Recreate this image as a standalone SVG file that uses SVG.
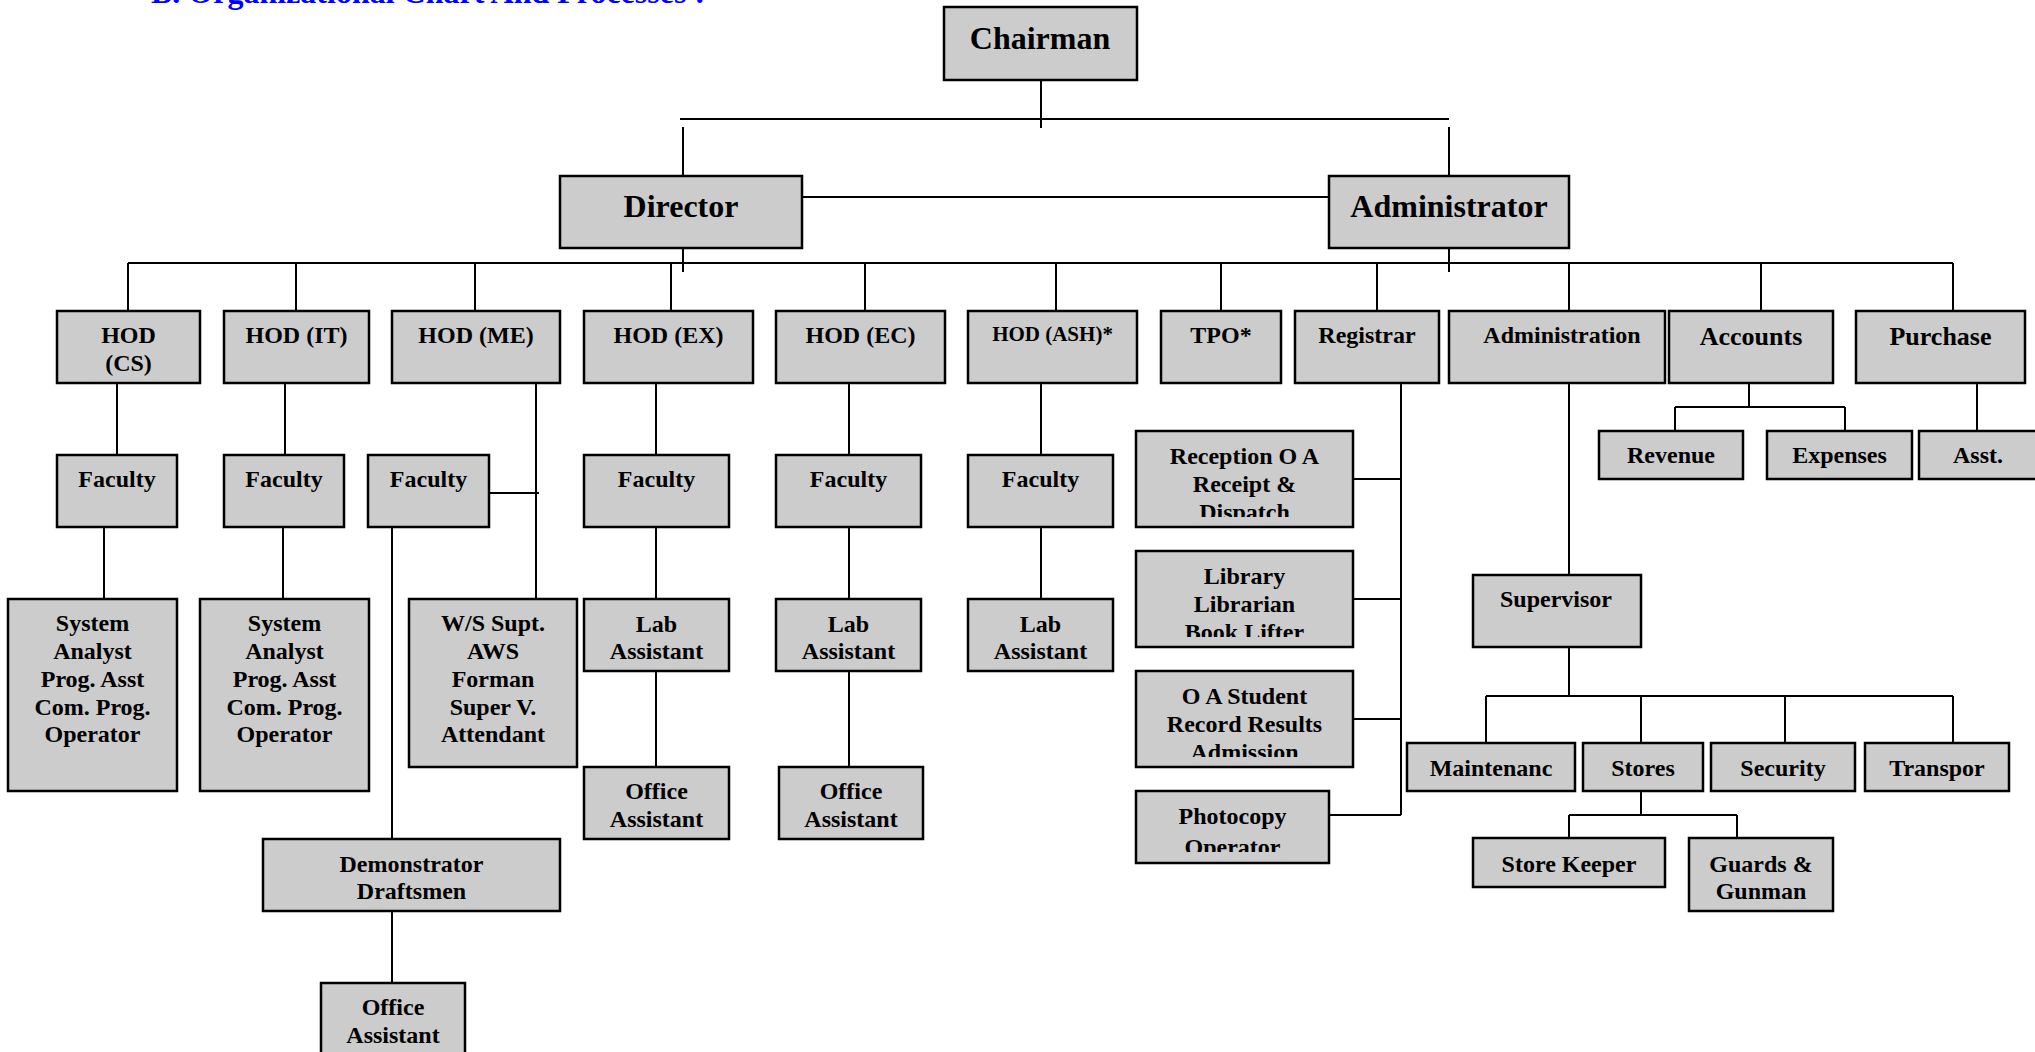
<svg xmlns="http://www.w3.org/2000/svg" width="2035" height="1052" viewBox="0 0 2035 1052">
<style>
.box{fill:#cccccc;stroke:#000;stroke-width:2.5}
.t{font-family:"Liberation Serif","Times New Roman",serif;font-weight:bold;font-size:24px;text-anchor:middle;fill:#000}
.big{font-size:32px}
.sm{font-size:21px}
.ttl{font-family:"Liberation Serif","Times New Roman",serif;font-weight:bold;font-size:32px;fill:#0000ff}
.ln{fill:none;stroke:#000;stroke-width:2}
</style>
<defs>
<clipPath id="c1" clipPathUnits="userSpaceOnUse"><rect x="1136" y="431" width="217" height="86"/></clipPath>
<clipPath id="c2" clipPathUnits="userSpaceOnUse"><rect x="1136" y="551" width="217" height="86"/></clipPath>
<clipPath id="c3" clipPathUnits="userSpaceOnUse"><rect x="1136" y="671" width="217" height="86"/></clipPath>
<clipPath id="c4" clipPathUnits="userSpaceOnUse"><rect x="1136" y="791" width="193" height="61"/></clipPath>
</defs>
<rect width="2035" height="1052" fill="#fff"/>
<text class="ttl" x="151" y="2.5">B. Organizational Chart And Processes :</text>

<g id="connectors">
<path class="ln" d="M1041 80V128M680 119H1449M683 127V176M1449 127V176M802 197H1329M683 248V272M1449 248V272M128 263H1953"/>
<path class="ln" d="M128 263V311M296 263V311M475 263V311M671 263V311M865 263V311M1056 263V311M1221 263V311M1377 263V311M1569 263V311M1761 263V311M1953 263V311"/>
<path class="ln" d="M117 383V455M104 527V599M285 383V455M283 527V599"/>
<path class="ln" d="M536 383V599M489 493H539M392 527V839M392 911V983"/>
<path class="ln" d="M656 383V455M656 527V599M656 671V767M849 383V455M849 527V599M849 671V767M1041 383V455M1041 527V599"/>
<path class="ln" d="M1401 383V815M1353 479H1401M1353 599H1401M1353 719H1401M1329 815H1401"/>
<path class="ln" d="M1569 383V575M1569 647V696M1486 696H1953M1486 696V743M1641 696V743M1785 696V743M1953 696V743"/>
<path class="ln" d="M1641 791V815M1569 815H1737M1569 815V838M1737 815V838"/>
<path class="ln" d="M1749 383V407M1675 407H1845M1675 407V431M1845 407V431M1977 383V431"/>
</g>

<g id="chairman"><rect class="box" x="944" y="7" width="193" height="73"/><text class="t big" x="1040" y="49">Chairman</text></g>
<g id="director"><rect class="box" x="560" y="176" width="242" height="72"/><text class="t big" x="681" y="217">Director</text></g>
<g id="administrator"><rect class="box" x="1329" y="176" width="240" height="72"/><text class="t big" x="1449" y="217">Administrator</text></g>

<g id="hod-cs"><rect class="box" x="57" y="311" width="143" height="72"/><text class="t" x="128.5" y="343">HOD</text><text class="t" x="128.5" y="371">(CS)</text></g>
<g id="hod-it"><rect class="box" x="224" y="311" width="145" height="72"/><text class="t" x="296.5" y="343">HOD (IT)</text></g>
<g id="hod-me"><rect class="box" x="392" y="311" width="168" height="72"/><text class="t" x="476" y="343">HOD (ME)</text></g>
<g id="hod-ex"><rect class="box" x="584" y="311" width="169" height="72"/><text class="t" x="668.5" y="343">HOD (EX)</text></g>
<g id="hod-ec"><rect class="box" x="776" y="311" width="169" height="72"/><text class="t" x="860.5" y="343">HOD (EC)</text></g>
<g id="hod-ash"><rect class="box" x="968" y="311" width="169" height="72"/><text class="t sm" x="1052.5" y="341">HOD (ASH)*</text></g>
<g id="tpo"><rect class="box" x="1161" y="311" width="120" height="72"/><text class="t" x="1221" y="343">TPO*</text></g>
<g id="registrar"><rect class="box" x="1295" y="311" width="144" height="72"/><text class="t" x="1367" y="343">Registrar</text></g>
<g id="administration"><rect class="box" x="1449" y="311" width="216" height="72"/><text class="t" x="1562" y="343">Administration</text></g>
<g id="accounts"><rect class="box" x="1669" y="311" width="164" height="72"/><text class="t" x="1751" y="345" style="font-size:26px">Accounts</text></g>
<g id="purchase"><rect class="box" x="1856" y="311" width="169" height="72"/><text class="t" x="1940.5" y="345" style="font-size:26px">Purchase</text></g>

<g id="faculty-cs"><rect class="box" x="57" y="455" width="120" height="72"/><text class="t" x="117" y="487">Faculty</text></g>
<g id="faculty-it"><rect class="box" x="224" y="455" width="120" height="72"/><text class="t" x="284" y="487">Faculty</text></g>
<g id="faculty-me"><rect class="box" x="368" y="455" width="121" height="72"/><text class="t" x="428.5" y="487">Faculty</text></g>
<g id="faculty-ex"><rect class="box" x="584" y="455" width="145" height="72"/><text class="t" x="656.5" y="487">Faculty</text></g>
<g id="faculty-ec"><rect class="box" x="776" y="455" width="145" height="72"/><text class="t" x="848.5" y="487">Faculty</text></g>
<g id="faculty-ash"><rect class="box" x="968" y="455" width="145" height="72"/><text class="t" x="1040.5" y="487">Faculty</text></g>

<g id="sys-cs"><rect class="box" x="8" y="599" width="169" height="192"/><text class="t" x="92.5" y="631">System</text><text class="t" x="92.5" y="659">Analyst</text><text class="t" x="92.5" y="687">Prog. Asst</text><text class="t" x="92.5" y="715">Com. Prog.</text><text class="t" x="92.5" y="742">Operator</text></g>
<g id="sys-it"><rect class="box" x="200" y="599" width="169" height="192"/><text class="t" x="284.5" y="631">System</text><text class="t" x="284.5" y="659">Analyst</text><text class="t" x="284.5" y="687">Prog. Asst</text><text class="t" x="284.5" y="715">Com. Prog.</text><text class="t" x="284.5" y="742">Operator</text></g>
<g id="ws-me"><rect class="box" x="409" y="599" width="168" height="168"/><text class="t" x="493" y="631">W/S Supt.</text><text class="t" x="493" y="659">AWS</text><text class="t" x="493" y="687">Forman</text><text class="t" x="493" y="715">Super V.</text><text class="t" x="493" y="742">Attendant</text></g>
<g id="lab-ex"><rect class="box" x="584" y="599" width="145" height="72"/><text class="t" x="656.5" y="632">Lab</text><text class="t" x="656.5" y="659">Assistant</text></g>
<g id="lab-ec"><rect class="box" x="776" y="599" width="145" height="72"/><text class="t" x="848.5" y="632">Lab</text><text class="t" x="848.5" y="659">Assistant</text></g>
<g id="lab-ash"><rect class="box" x="968" y="599" width="145" height="72"/><text class="t" x="1040.5" y="632">Lab</text><text class="t" x="1040.5" y="659">Assistant</text></g>
<g id="office-ex"><rect class="box" x="584" y="767" width="145" height="72"/><text class="t" x="656.5" y="799">Office</text><text class="t" x="656.5" y="827">Assistant</text></g>
<g id="office-ec"><rect class="box" x="779" y="767" width="144" height="72"/><text class="t" x="851" y="799">Office</text><text class="t" x="851" y="827">Assistant</text></g>
<g id="demonstrator"><rect class="box" x="263" y="839" width="297" height="72"/><text class="t" x="411.5" y="872">Demonstrator</text><text class="t" x="411.5" y="899">Draftsmen</text></g>
<g id="office-me"><rect class="box" x="321" y="983" width="144" height="85"/><text class="t" x="393" y="1015">Office</text><text class="t" x="393" y="1043">Assistant</text></g>

<g id="reception"><rect class="box" x="1136" y="431" width="217" height="96"/><g clip-path="url(#c1)"><text class="t" x="1244.5" y="464">Reception O A</text><text class="t" x="1244.5" y="492">Receipt &amp;</text><text class="t" x="1244.5" y="520">Dispatch</text></g></g>
<g id="library"><rect class="box" x="1136" y="551" width="217" height="96"/><g clip-path="url(#c2)"><text class="t" x="1244.5" y="584">Library</text><text class="t" x="1244.5" y="612">Librarian</text><text class="t" x="1244.5" y="640">Book Lifter</text></g></g>
<g id="oa-student"><rect class="box" x="1136" y="671" width="217" height="96"/><g clip-path="url(#c3)"><text class="t" x="1244.5" y="704">O A Student</text><text class="t" x="1244.5" y="732">Record Results</text><text class="t" x="1244.5" y="760">Admission</text></g></g>
<g id="photocopy"><rect class="box" x="1136" y="791" width="193" height="72"/><g clip-path="url(#c4)"><text class="t" x="1232.5" y="824">Photocopy</text><text class="t" x="1232.5" y="855">Operator</text></g></g>

<g id="revenue"><rect class="box" x="1599" y="431" width="144" height="48"/><text class="t" x="1671" y="463">Revenue</text></g>
<g id="expenses"><rect class="box" x="1767" y="431" width="145" height="48"/><text class="t" x="1839.5" y="463">Expenses</text></g>
<g id="asst"><rect class="box" x="1919" y="431" width="130" height="48"/><text class="t" x="1978" y="463">Asst.</text></g>

<g id="supervisor"><rect class="box" x="1473" y="575" width="168" height="72"/><text class="t" x="1556" y="607">Supervisor</text></g>
<g id="maintenance"><rect class="box" x="1407" y="743" width="168" height="48"/><text class="t" x="1491" y="776">Maintenanc</text></g>
<g id="stores"><rect class="box" x="1583" y="743" width="120" height="48"/><text class="t" x="1643" y="776">Stores</text></g>
<g id="security"><rect class="box" x="1711" y="743" width="144" height="48"/><text class="t" x="1783" y="776">Security</text></g>
<g id="transport"><rect class="box" x="1865" y="743" width="144" height="48"/><text class="t" x="1937" y="776">Transpor</text></g>
<g id="store-keeper"><rect class="box" x="1473" y="838" width="192" height="49"/><text class="t" x="1569" y="872">Store Keeper</text></g>
<g id="guards"><rect class="box" x="1689" y="838" width="144" height="73"/><text class="t" x="1761" y="872">Guards &amp;</text><text class="t" x="1761" y="899">Gunman</text></g>
</svg>
